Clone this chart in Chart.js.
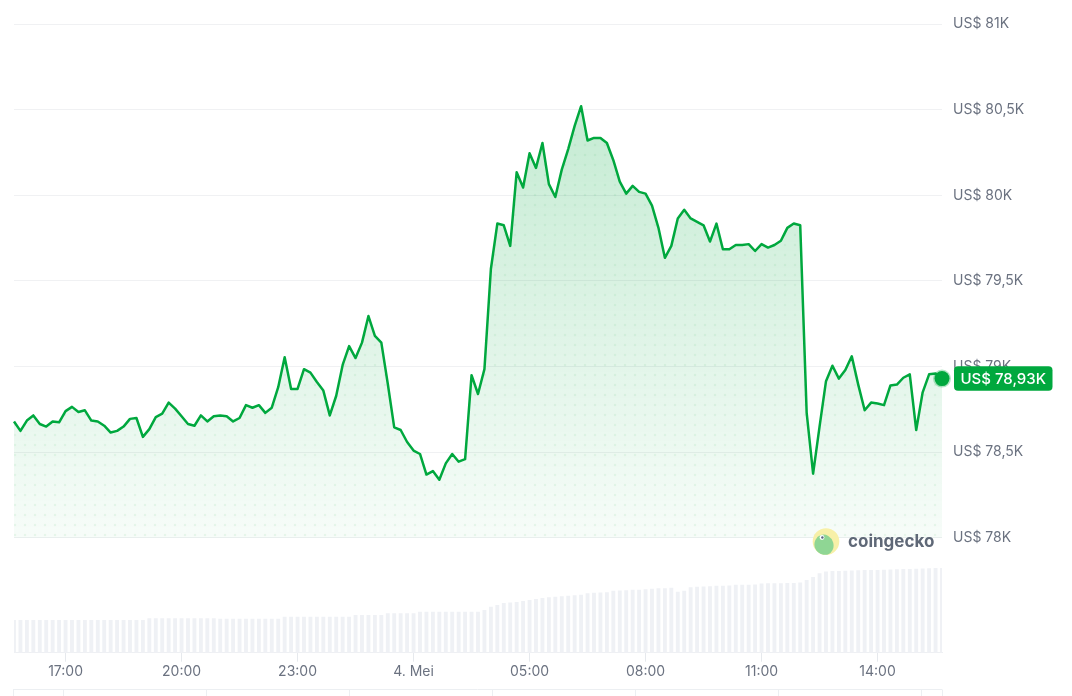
<!DOCTYPE html>
<html>
<head>
<meta charset="utf-8">
<script src="https://cdn.jsdelivr.net/npm/chart.js@4.4.1/dist/chart.umd.min.js"></script>
<style>
    html, body { margin: 0; padding: 0; background: #fff; }
    #wrap { width: 1072px; height: 696px; position: relative; }
</style>
</head>
<body>
<div id="wrap"><canvas id="priceChart" width="1072" height="696"></canvas></div>
<script>
// 24h BTC price, one point every 10 minutes, starting 3 Mei 15:40
const startMinute = 15 * 60 + 40;
const stepMinutes = 10;

const prices = [
    78680, 78625, 78685, 78715, 78665, 78650, 78680, 78675, 78740, 78765,
    78735, 78745, 78685, 78680, 78655, 78615, 78625, 78650, 78695, 78700,
    78590, 78635, 78705, 78725, 78790, 78755, 78710, 78665, 78655, 78715,
    78680, 78710, 78715, 78710, 78680, 78700, 78775, 78760, 78775, 78730,
    78760, 78880, 79055, 78870, 78870, 78985, 78965, 78910, 78860, 78715,
    78830, 79010, 79120, 79050, 79140, 79295, 79180, 79140, 78900, 78645,
    78630, 78560, 78510, 78490, 78370, 78390, 78340, 78435, 78490, 78445,
    78460, 78950, 78840, 78985, 79570, 79835, 79825, 79705, 80135, 80045,
    80245, 80160, 80305, 80065, 79990, 80150, 80270, 80405, 80520, 80320,
    80335, 80335, 80305, 80205, 80080, 80010, 80055, 80020, 80010, 79940,
    79810, 79635, 79705, 79865, 79915, 79865, 79845, 79825, 79730, 79835,
    79685, 79685, 79710, 79710, 79715, 79675, 79715, 79695, 79710, 79735,
    79810, 79835, 79825, 78730, 78375, 78650, 78915, 79005, 78930, 78980,
    79060, 78895, 78745, 78790, 78785, 78775, 78890, 78895, 78935, 78955,
    78630, 78850, 78955, 78960, 78930
];

// 24h volume (billion USD)
const volumes = [
    13.0, 13.0, 13.0, 13.0, 13.0, 13.0, 13.0, 13.0, 13.0, 13.0,
    13.0, 13.0, 13.0, 13.0, 13.0, 13.0, 13.0, 13.0, 13.0, 13.0,
    13.0, 13.7, 13.7, 13.7, 13.7, 13.7, 13.7, 13.7, 13.7, 13.7,
    13.7, 13.7, 13.5, 13.5, 13.5, 13.5, 13.5, 13.5, 13.5, 13.5,
    13.5, 13.5, 14.3, 14.3, 14.3, 14.3, 14.3, 14.3, 14.3, 14.3,
    14.3, 14.3, 14.3, 15.0, 15.0, 15.0, 15.0, 15.0, 15.7, 15.7,
    15.7, 15.7, 15.7, 16.3, 16.3, 16.3, 16.3, 16.3, 16.3, 16.3,
    16.3, 16.3, 16.3, 17.0, 18.3, 19.0, 19.8, 20.0, 20.2, 20.6,
    21.0, 21.4, 21.8, 22.0, 22.2, 22.4, 22.6, 22.8, 23.0, 23.6,
    23.8, 23.9, 24.0, 24.6, 24.7, 24.8, 25.0, 25.0, 25.2, 25.4,
    25.6, 25.6, 25.8, 24.2, 24.6, 26.0, 26.2, 26.3, 26.4, 26.6,
    26.6, 26.7, 27.0, 27.0, 27.0, 27.1, 27.5, 27.6, 27.6, 27.6,
    27.7, 27.7, 27.9, 28.9, 30.1, 31.6, 32.3, 32.5, 32.5, 32.6,
    32.7, 32.8, 32.9, 32.9, 32.9, 33.0, 33.1, 33.2, 33.3, 33.3,
    33.4, 33.5, 33.6, 33.7, 33.7
];

// x ticks every 3 hours; the 02:00 tick carries the date
const tickLabels = ["17:00", "20:00", "23:00", "02:00", "05:00", "08:00", "11:00", "14:00"];
const dayTick = "02:00";
const dayLabel = "4. Mei";
const priceTicks = [78000, 78500, 79000, 79500, 80000, 80500, 81000];

const green = "#00a83e";
const gray = "#6b7280";
const font = { family: "Inter", size: 14 };

// time labels for every point
const times = [];
for (let i = 0; i < prices.length; i++) {
    const m = (startMinute + i * stepMinutes) % 1440;
    times.push(String(Math.floor(m / 60)).padStart(2, "0") + ":" + String(m % 60).padStart(2, "0"));
}

function formatK(v, digits) {
    let s = digits ? (v / 1000).toFixed(digits) : String(v / 1000);
    return "US$ " + s.replace(".", ",") + "K";
}

// gradient fill with faint dot grid, in canvas space
function makeFillPattern(ctx) {
    const c = document.createElement("canvas");
    c.width = 10;
    c.height = 696;
    const g = c.getContext("2d");
    const grad = g.createLinearGradient(0, 100, 0, 540);
    grad.addColorStop(0, "rgba(0,168,62,0.23)");
    grad.addColorStop(1, "rgba(0,168,62,0.03)");
    g.fillStyle = grad;
    g.fillRect(0, 0, 10, 696);
    g.fillStyle = "rgba(0,168,62,0.07)";
    for (let y = 5; y < 696; y += 10) {
        g.beginPath();
        g.arc(5, y, 1.3, 0, Math.PI * 2);
        g.fill();
    }
    return ctx.createPattern(c, "repeat");
}

const extras = {
    id: "extras",
    afterDatasetsDraw(chart) {
        const ctx = chart.ctx;
        // coingecko watermark
        ctx.save();
        ctx.beginPath();
        ctx.arc(826, 541.5, 13.3, 0, Math.PI * 2);
        ctx.fillStyle = "#f7f0a8";
        ctx.fill();
        ctx.clip();
        ctx.beginPath();
        ctx.ellipse(824, 545, 9.5, 10.5, -0.3, 0, Math.PI * 2);
        ctx.fillStyle = "#8fd694";
        ctx.fill();
        ctx.beginPath();
        ctx.arc(822, 537.5, 2.4, 0, Math.PI * 2);
        ctx.fillStyle = "#ffffff";
        ctx.fill();
        ctx.beginPath();
        ctx.arc(822.4, 537.5, 1.2, 0, Math.PI * 2);
        ctx.fillStyle = "#58667e";
        ctx.fill();
        ctx.restore();
        ctx.save();
        ctx.font = "bold 17px Inter";
        ctx.fillStyle = "#5f6877";
        ctx.textBaseline = "middle";
        ctx.fillText("coingecko", 848, 542);
        ctx.restore();
    },
    afterDraw(chart) {
        const ctx = chart.ctx;
        const area = chart.chartArea;
        const last = prices[prices.length - 1];
        const y = chart.scales.y.getPixelForValue(last);
        // current price badge
        const x0 = area.right + 12, w = 98.5, h = 24.5;
        ctx.save();
        ctx.beginPath();
        ctx.roundRect(x0, y - h / 2, w, h, 4);
        ctx.fillStyle = green;
        ctx.fill();
        ctx.font = "500 15px Inter";
        ctx.fillStyle = "#ffffff";
        ctx.textAlign = "center";
        ctx.textBaseline = "middle";
        ctx.fillText(formatK(last, 2), x0 + w / 2, y + 0.5);
        ctx.restore();
        // top edge of the table below the chart
        const cols = [13, 63, 206, 349, 492, 635, 778, 921, 942];
        ctx.save();
        ctx.strokeStyle = "#eceff2";
        ctx.lineWidth = 1;
        ctx.beginPath();
        ctx.moveTo(13, 689.5);
        ctx.lineTo(942, 689.5);
        cols.forEach(function (cx) {
            ctx.moveTo(cx + 0.5, 689.5);
            ctx.lineTo(cx + 0.5, 696);
        });
        ctx.stroke();
        ctx.restore();
    }
};

const canvas = document.getElementById("priceChart");
const ctx = canvas.getContext("2d");
const lastIndex = prices.length - 1;

new Chart(ctx, {
    type: "line",
    data: {
        labels: times,
        datasets: [{
            label: "Harga",
            data: prices,
            yAxisID: "y",
            borderColor: green,
            borderWidth: 2.5,
            borderJoinStyle: "round",
            backgroundColor: makeFillPattern(ctx),
            fill: { value: 78000 },
            tension: 0,
            pointRadius: c => (c.dataIndex === lastIndex ? 7.5 : 0),
            pointHoverRadius: 0,
            pointBackgroundColor: green,
            pointBorderColor: "rgba(0,168,62,0.3)",
            pointBorderWidth: 3,
            clip: false,
            order: 0
        }, {
            type: "bar",
            label: "Volume",
            data: volumes,
            yAxisID: "yv",
            backgroundColor: "#eff1f5",
            barPercentage: 0.6,
            categoryPercentage: 1,
            order: 1
        }]
    },
    options: {
        responsive: false,
        animation: false,
        layout: {
            padding: { top: 24, left: 14, right: 0, bottom: 13.5 }
        },
        plugins: {
            legend: { display: false },
            tooltip: { enabled: false }
        },
        scales: {
            x: {
                type: "category",
                offset: false,
                grid: {
                    offset: false,
                    drawOnChartArea: false,
                    drawTicks: true,
                    tickLength: 9,
                    color: "#e6e9ed"
                },
                border: { display: true, color: "#eef0f3" },
                afterBuildTicks: function (scale) {
                    scale.ticks = scale.ticks.filter(t => tickLabels.includes(times[t.value]));
                },
                ticks: {
                    autoSkip: false,
                    maxRotation: 0,
                    padding: 2,
                    color: gray,
                    font: font,
                    callback: function (value) {
                        const l = times[value];
                        return l === dayTick ? dayLabel : l;
                    }
                }
            },
            y: {
                position: "right",
                min: 77330,
                max: 81000,
                afterBuildTicks: function (scale) {
                    scale.ticks = priceTicks.map(v => ({ value: v }));
                },
                afterFit: function (scale) {
                    scale.width = 130;
                },
                grid: { color: "#f0f1f3", drawTicks: false },
                border: { display: false },
                ticks: {
                    padding: 11,
                    color: gray,
                    font: font,
                    callback: v => formatK(v)
                }
            },
            yv: {
                display: false,
                min: 0,
                max: 250
            }
        }
    },
    plugins: [extras]
});
</script>
</body>
</html>
